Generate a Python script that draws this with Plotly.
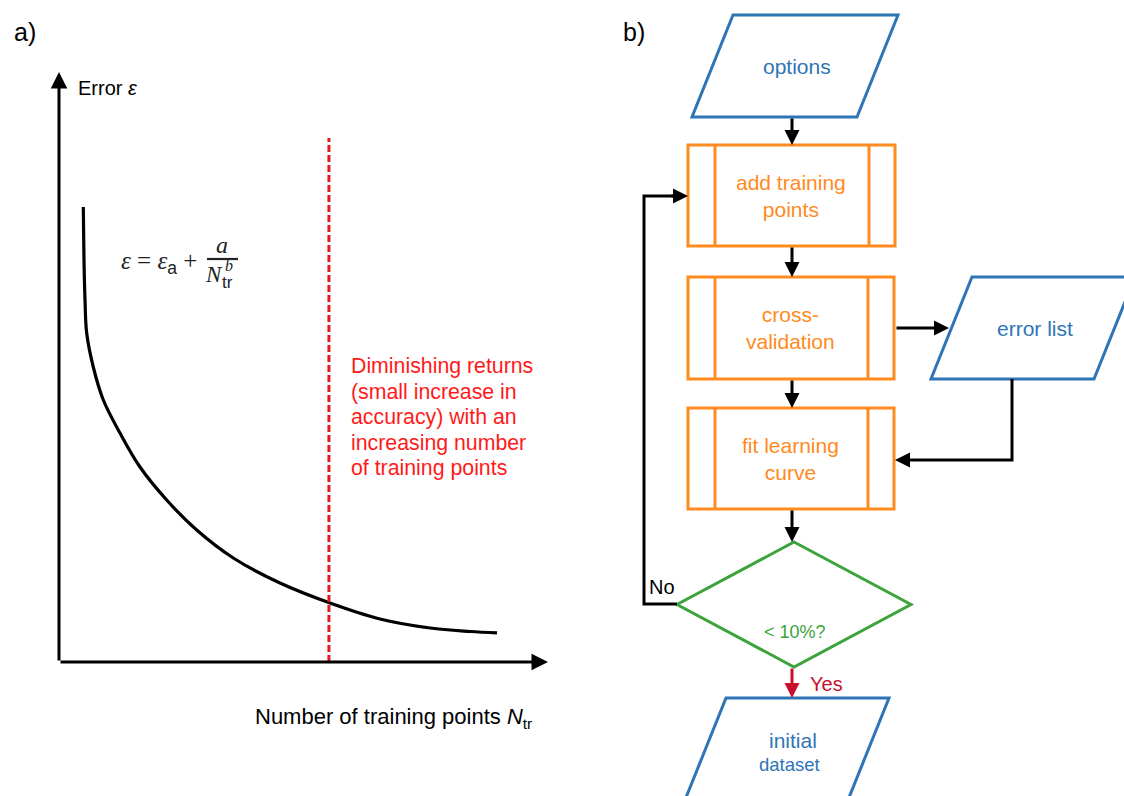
import plotly.graph_objects as go

# ---------------- data ----------------
# panel a: learning curve (arbitrary units)
curve_N = [4.97, 5.11, 5.32, 5.66, 7.01, 9.06, 12.47, 16.56, 22.02, 28.16,
           35.64, 45.19, 55.42, 65.64, 75.87, 84.05, 89.57]
curve_err = [77.12, 68.14, 61.36, 55.76, 50.00, 44.41, 38.81, 33.05, 27.46, 22.37,
             17.63, 13.39, 10.00, 7.29, 5.76, 5.17, 4.92]
cutoff_N = 55.2
cutoff_span = [-3.4, 88.8]

# panel b: flowchart nodes
node_names = ["options", "add", "cv", "fit", "check", "errlist", "init"]
node_labels = ["options", "add training<br>points", "cross-<br>validation",
               "fit learning<br>curve", "< 10%?", "error list", "initial"]
node_kinds = ["io", "proc", "proc", "proc", "dec", "io", "io"]

# ---------------- styles / layout geometry ----------------
W, H = 1124, 796
BLUE = "#2E75B6"
ORANGE = "#FF8A1E"
GREEN = "#3DA33D"
RED = "#FF1A1A"
DRED = "#C8102E"
SANS = "Liberation Sans, Arial, sans-serif"
SERIF = "Liberation Serif, DejaVu Serif, serif"
LW = 3.0

# pixel geometry of flowchart nodes (left, top, right, bottom, slant)
geom = {
    "options": (692, 15, 898, 117, 41),
    "add": (688, 145, 895, 246, 0),
    "cv": (688, 277, 894, 379, 0),
    "fit": (688, 408, 894, 509, 0),
    "check": (677, 542, 911, 667, 0),
    "errlist": (931, 277, 1135, 379, 41),
    "init": (685, 698, 889, 800, 41),
}
node_color = {"io": BLUE, "proc": ORANGE, "dec": GREEN}

fig = go.Figure()

# panel a data axes: N 0 at px 59, 100 at px 548; err 0 at px 662, 100 at px 72
fig.update_layout(
    xaxis=dict(domain=[59 / W, 548 / W], range=[0, 100], visible=False, fixedrange=True),
    yaxis=dict(domain=[1 - 662 / H, 1 - 72 / H], range=[0, 100], visible=False, fixedrange=True),
    xaxis2=dict(domain=[0, 1], range=[0, W], visible=False, fixedrange=True, anchor="y2"),
    yaxis2=dict(domain=[0, 1], range=[H, 0], visible=False, fixedrange=True, anchor="x2"),
)

# invisible trace to activate x2/y2 (added first so panel a traces draw on top)
fig.add_trace(go.Scatter(x=[0], y=[0], mode="markers", marker=dict(opacity=0),
                         hoverinfo="skip", xaxis="x2", yaxis="y2"))
fig.add_trace(go.Scatter(x=curve_N, y=curve_err, mode="lines",
                         line=dict(color="black", width=3.2, shape="spline", smoothing=1.0),
                         hoverinfo="skip", xaxis="x", yaxis="y", cliponaxis=False))
fig.add_trace(go.Scatter(x=[cutoff_N, cutoff_N], y=cutoff_span, mode="lines",
                         line=dict(color="#E8191E", width=3, dash="7px,3px"),
                         hoverinfo="skip", xaxis="x", yaxis="y", cliponaxis=False))

shapes = []
annos = []


def arrow(x0, y0, x1, y1, color="black", ref=("x2", "y2"), width=LW, size=1.0):
    annos.append(dict(x=x1, y=y1, ax=x0, ay=y0, xref=ref[0], yref=ref[1],
                      axref=ref[0], ayref=ref[1], showarrow=True, arrowhead=2,
                      arrowsize=size, arrowwidth=width, arrowcolor=color,
                      standoff=0, startstandoff=0, text=""))


def text(x, y, t, size=21, color="black", family=SANS, xanchor="center", yanchor="middle",
         align="center", ref=("x2", "y2")):
    annos.append(dict(x=x, y=y, xref=ref[0], yref=ref[1], text=t, showarrow=False,
                      font=dict(size=size, color=color, family=family),
                      xanchor=xanchor, yanchor=yanchor, align=align))


def line(path, color="black", width=LW):
    shapes.append(dict(type="path", path=path, xref="x2", yref="y2",
                       line=dict(color=color, width=width), layer="below"))


# panel a axes arrows
arrow(0, 0, 0, 100, ref=("x", "y"), width=3, size=1.1)
arrow(0, 0, 100, 0, ref=("x", "y"), width=3, size=1.1)

# panel labels
text(25, 32, "a)", size=25)
text(634, 32, "b)", size=25)

# panel a texts
text(76, 88, "Error <i>ε</i>", size=20, xanchor="left")
text(253, 718, "Number of training points <i>N</i><sub>tr</sub>", size=22, xanchor="left")
red_lines = ["Diminishing returns", "(small increase in", "accuracy) with an",
             "increasing number", "of training points"]
for i, s in enumerate(red_lines):
    text(349, 366 + i * 25.6, s, size=21.3, color=RED, xanchor="left")

# formula
text(199, 262, "<i>ε</i> = <i>ε</i><span style='font-family:Liberation Sans'><sub>a</sub></span> +",
     size=25, color="#222", family=SERIF, xanchor="right")
text(222, 245, "<i>a</i>", size=24, color="#222", family=SERIF)
shapes.append(dict(type="line", x0=207, x1=238, y0=259, y1=259, xref="x2", yref="y2",
                   line=dict(color="#222", width=2.2)))
text(214, 274, "<i>N</i>", size=23, color="#222", family=SERIF)
text(229, 265, "<i>b</i>", size=16, color="#222", family=SERIF)
text(227, 282, "tr", size=17, color="#222", family=SANS)

# flowchart nodes
for name, lab, kind in zip(node_names, node_labels, node_kinds):
    l, t, r, b, s = geom[name]
    c = node_color[kind]
    cx, cy = (l + r) / 2, (t + b) / 2
    if kind == "io":
        line(f"M {l + s},{t} L {r},{t} L {r - s},{b} L {l},{b} Z", color=c)
        h = b - t
        cy = t + 51 if name != "init" else 740
        cx = (l + r) / 2 + s * (0.5 - (cy - t) / h)
        text(cx + 2, cy, lab, size=21, color=c)
    elif kind == "proc":
        shapes.append(dict(type="rect", x0=l, x1=r, y0=t, y1=b, xref="x2", yref="y2",
                           line=dict(color=c, width=LW), layer="below"))
        line(f"M {l + 27},{t} L {l + 27},{b}", color=c)
        line(f"M {r - 26},{t} L {r - 26},{b}", color=c)
        text(cx - 1, cy, lab, size=21, color=c)
    else:
        line(f"M {cx},{t} L {r},{cy} L {cx},{b} L {l},{cy} Z", color=c)
        text(cx + 1, 632, lab, size=18, color=c)

text(789, 764, "dataset", size=18.5, color=BLUE)

# connectors
arrow(792, 117, 792, 145)
arrow(792, 246, 792, 277)
arrow(792, 379, 792, 408)
arrow(792, 509, 792, 542)
arrow(895, 328, 949, 328)
line("M 1012,379 L 1012,460 L 905,460")
arrow(910, 460, 895, 460)
line("M 677,604 L 644,604 L 644,196 L 675,196")
arrow(670, 196, 688, 196)
arrow(792, 667, 792, 698, color=DRED)
text(662, 587, "No", size=20)
text(826, 684, "Yes", size=20, color=DRED)

fig.update_layout(width=W, height=H, margin=dict(l=0, r=0, t=0, b=0),
                  paper_bgcolor="white", plot_bgcolor="rgba(0,0,0,0)", showlegend=False,
                  shapes=shapes, annotations=annos)

fig.write_html("out.html", config={"displayModeBar": False},
               post_script="document.body.style.margin='0px';document.body.style.overflow='hidden';")
